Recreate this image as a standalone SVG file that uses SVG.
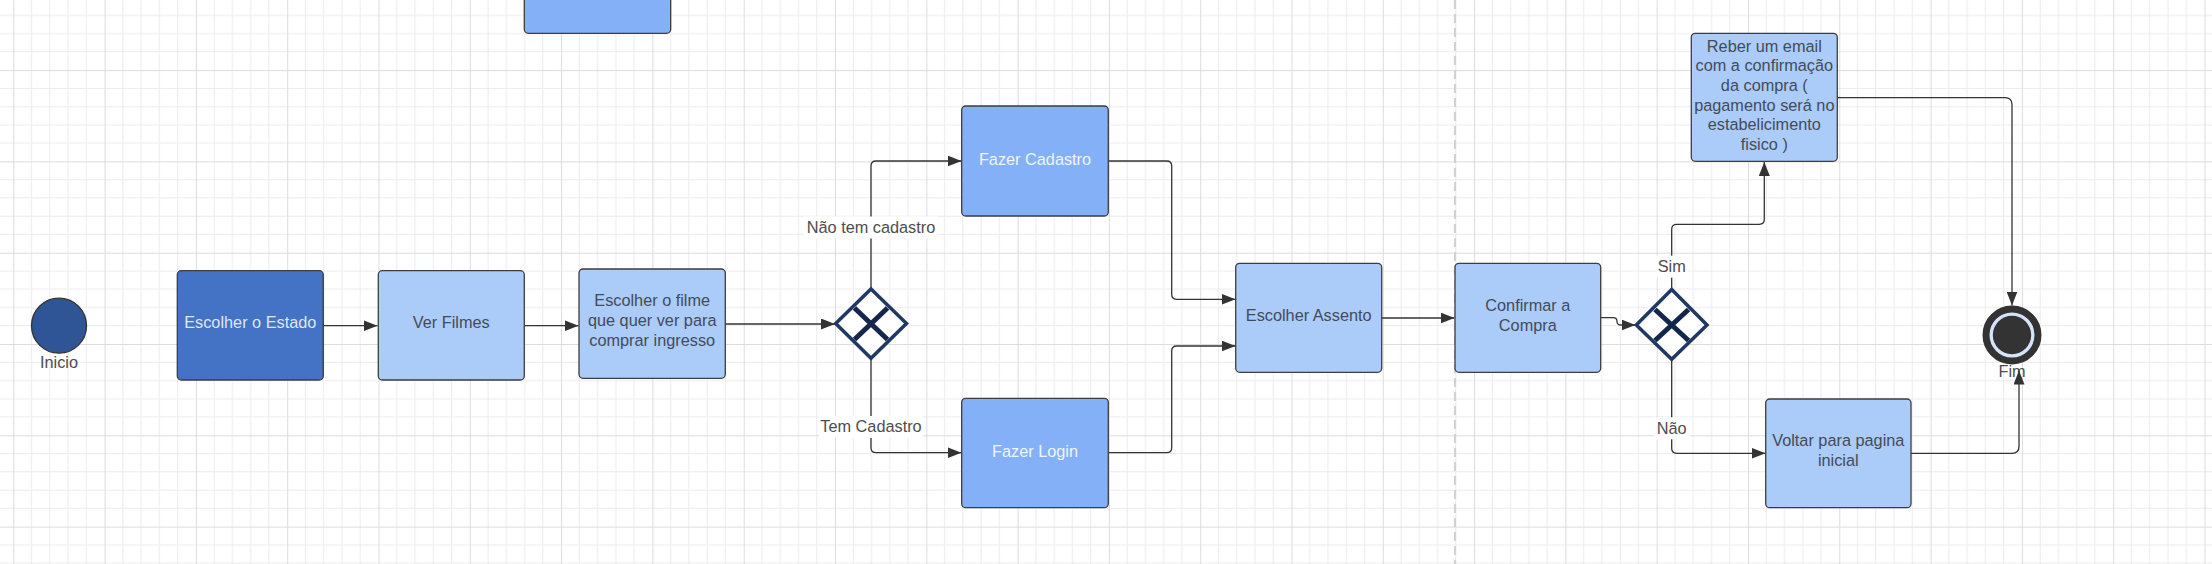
<svg xmlns="http://www.w3.org/2000/svg" width="2212" height="564" viewBox="0 0 2212 564">
<defs>
<pattern id="grid" patternUnits="userSpaceOnUse" x="13.3" y="70.1" width="91.3" height="91.3">
<path d="M18.26,0V91.3M36.52,0V91.3M54.78,0V91.3M73.04,0V91.3M0,18.26H91.3M0,36.52H91.3M0,54.78H91.3M0,73.04H91.3" stroke="#ececec" stroke-width="1" fill="none"/>
<path d="M0.5,0V91.3M0,0.5H91.3" stroke="#dcdcdc" stroke-width="1" fill="none"/>
</pattern>
<marker id="arr" viewBox="0 0 14 11" refX="14" refY="5.5" markerWidth="14" markerHeight="11" markerUnits="userSpaceOnUse" orient="auto">
<path d="M0,0L14,5.5L0,11Z" fill="#333"/>
</marker>
<style>
text{font-family:"Liberation Sans",Arial,sans-serif;font-size:16.3px;text-anchor:middle}
.box{stroke:#3d3d3d;stroke-width:1.3}
.dark{fill:#4472c4}
.mid{fill:#84b0f7}
.light{fill:#abcbf8}
.tdark{fill:#dde7f7}
.tmid{fill:#f0f5fe}
.tlight{fill:#434b5a}
.lbl{fill:#4d4d4d}
.edge{fill:none;stroke:#333;stroke-width:1.3;marker-end:url(#arr)}
.gw{fill:#fff;stroke:#1f3864;stroke-width:3.5}
.gx{stroke:#14264a;stroke-width:5;stroke-linecap:butt}
</style>
</defs>
<rect width="2212" height="564" fill="#fff"/>
<rect width="2212" height="564" fill="url(#grid)"/>
<line x1="1455" y1="0" x2="1455" y2="564" stroke="#d2d2d2" stroke-width="2.2" stroke-dasharray="9,5"/>

<g id="connectors">
<path class="edge" d="M323.3,325.7H377.5"/>
<path class="edge" d="M524.3,325.7H578.5"/>
<path class="edge" d="M725.3,324H835"/>
<path class="edge" d="M871,289V166Q871,161 876,161H961.5"/>
<path class="edge" d="M871,358.5V447.7Q871,452.7 876,452.7H961.5"/>
<path class="edge" d="M1108.3,161H1166.7Q1171.7,161 1171.7,166V294.3Q1171.7,299.3 1176.7,299.3H1235.5"/>
<path class="edge" d="M1108.3,452.7H1166.7Q1171.7,452.7 1171.7,447.7V351Q1171.7,346 1176.7,346H1235.5"/>
<path class="edge" d="M1381.7,318H1454.5"/>
<path class="edge" d="M1600.7,317.7H1613Q1617,317.7 1617,321.5Q1617,325 1621,325H1635.5"/>
<path class="edge" d="M1671.7,289.3V229.3Q1671.7,224.3 1676.7,224.3H1759.3Q1764.3,224.3 1764.3,219.3V162"/>
<path class="edge" d="M1671.7,359.3V448.3Q1671.7,453.3 1676.7,453.3H1765.5"/>
<path class="edge" d="M1837.3,97.7H2005Q2012,97.7 2012,104.7V305.5"/>
<g id="edge-labels">
<rect x="804" y="216.5" width="134" height="22" fill="#fff"/>
<text class="lbl" x="871" y="233">Não tem cadastro</text>
<rect x="819" y="416" width="104" height="22" fill="#fff"/>
<text class="lbl" x="871" y="432.4">Tem Cadastro</text>
<rect x="1656" y="255.7" width="32" height="22" fill="#fff"/>
<text class="lbl" x="1671.7" y="272.4">Sim</text>
<rect x="1654" y="417.3" width="36" height="22" fill="#fff"/>
<text class="lbl" x="1671.7" y="434">Não</text>
</g>
</g>

<g id="inicio">
<circle cx="59" cy="325.7" r="27.5" fill="#2f5597" stroke="#333" stroke-width="1.3"/>
<text class="lbl" x="59" y="368">Inicio</text>
</g>
<g id="escolher-estado">
<rect class="box dark" x="177.3" y="270.7" width="146" height="109.3" rx="4"/>
<text class="tdark" x="250.3" y="328.4">Escolher o Estado</text>
</g>
<g id="ver-filmes">
<rect class="box light" x="378.3" y="270.7" width="146" height="109.3" rx="4"/>
<text class="tlight" x="451.3" y="328.4">Ver Filmes</text>
</g>
<g id="escolher-filme">
<rect class="box light" x="579" y="269" width="146.3" height="109.3" rx="4"/>
<text class="tlight" x="652.2" y="306.4">Escolher o filme</text>
<text class="tlight" x="652.2" y="326.1">que quer ver para</text>
<text class="tlight" x="652.2" y="345.8">comprar ingresso</text>
</g>
<g id="topo">
<rect class="box mid" x="524.3" y="-80" width="146.4" height="113.3" rx="4"/>
</g>
<g id="gateway-cadastro">
<path class="gw" d="M871,289L906.5,323.5L871,358.3L835.7,323.5Z"/>
<path class="gx" d="M854.5,308L887.5,339.5M887.5,308L854.5,339.5"/>
</g>
<g id="fazer-cadastro">
<rect class="box mid" x="961.7" y="106" width="146.6" height="110" rx="4"/>
<text class="tmid" x="1035" y="164.7">Fazer Cadastro</text>
</g>
<g id="fazer-login">
<rect class="box mid" x="961.7" y="398.3" width="146.6" height="109.4" rx="4"/>
<text class="tmid" x="1035" y="456.7">Fazer Login</text>
</g>
<g id="escolher-assento">
<rect class="box light" x="1235.7" y="263.3" width="146" height="109" rx="4"/>
<text class="tlight" x="1308.7" y="321.4">Escolher Assento</text>
</g>
<g id="confirmar-compra">
<rect class="box light" x="1455" y="263.3" width="145.7" height="109" rx="4"/>
<text class="tlight" x="1527.8" y="311.4">Confirmar a</text>
<text class="tlight" x="1527.8" y="330.7">Compra</text>
</g>
<g id="gateway-compra">
<path class="gw" d="M1671.7,289.5L1707,325L1671.7,359.3L1636.3,325Z"/>
<path class="gx" d="M1655,309.5L1688.5,340.5M1688.5,309.5L1655,340.5"/>
</g>
<g id="receber-email">
<rect class="box light" x="1691.3" y="33.3" width="146" height="128" rx="4"/>
<text class="tlight" x="1764.3" y="51.7">Reber um email</text>
<text class="tlight" x="1764.3" y="71.4">com a confirmação</text>
<text class="tlight" x="1764.3" y="91">da compra (</text>
<text class="tlight" x="1764.3" y="110.7">pagamento será no</text>
<text class="tlight" x="1764.3" y="130.4">estabelicimento</text>
<text class="tlight" x="1764.3" y="150">fisico )</text>
</g>
<g id="voltar">
<rect class="box light" x="1765.7" y="399" width="145.3" height="108.7" rx="4"/>
<text class="tlight" x="1838.3" y="446.4">Voltar para pagina</text>
<text class="tlight" x="1838.3" y="465.7">inicial</text>
</g>
<g id="fim">
<circle cx="2012" cy="335" r="26" fill="#d6e4fb" stroke="#333" stroke-width="7"/>
<circle cx="2012" cy="335" r="19.2" fill="#333"/>
<text class="lbl" x="2012" y="377.4">Fim</text>
</g>
<g id="connector-voltar-fim">
<path class="edge" d="M1911,453.3H2012Q2019,453.3 2019,446.3V370.5"/>
</g>
</svg>
